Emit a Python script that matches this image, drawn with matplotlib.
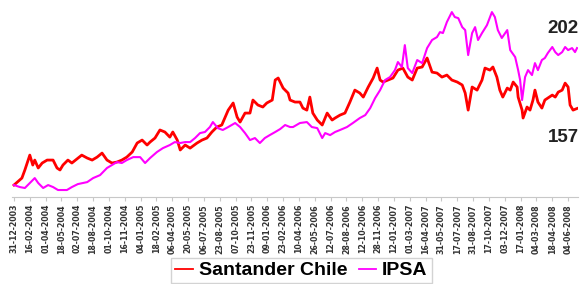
import matplotlib
matplotlib.use("Agg")
import matplotlib.pyplot as plt

# trading-day index of each traced point
santander_days = [0, 16, 22, 32, 38, 42, 49, 57, 67, 79, 87, 93, 99, 109, 117, 137, 148, 158, 168, 178,
                  188, 198, 208, 218, 228, 239, 249, 259, 269, 275, 285, 295, 305, 315, 321, 330, 336, 346, 356, 370,
                  380, 390, 400, 410, 420, 427, 433, 443, 451, 457, 467, 477, 483, 493, 503, 511, 522, 528, 534, 544,
                  554, 558, 568, 578, 584, 592, 598, 604, 613, 623, 633, 643, 649, 659, 669, 679, 689, 699, 706, 716,
                  726, 734, 740, 746, 756, 766, 776, 786, 796, 805, 815, 825, 835, 845, 855, 865, 875, 885, 896, 906,
                  912, 918, 926, 936, 946, 952, 962, 968, 976, 982, 988, 997, 1003, 1009, 1017, 1019, 1027, 1029, 1037, 1043,
                  1049, 1053, 1059, 1067, 1073, 1079, 1088, 1094, 1100, 1108, 1114, 1120, 1124, 1130, 1138]
santander = [100, 105.2, 111.2, 122.3, 114.9, 118.6, 112.7, 116.4, 118.6, 118.6, 112.7, 111.2, 114.9, 118.6, 116.4, 122.3, 120.1, 118.6, 120.8, 123.8,
             118.6, 116.4, 117.1, 118.6, 120.8, 124.6, 131.3, 133.5, 129.8, 132.0, 135.0, 141.0, 139.5, 135.7, 139.5, 133.5, 126.1, 129.8, 127.5, 131.3,
             133.5, 135.0, 139.5, 143.2, 144.7, 150.6, 155.8, 161.1, 150.6, 146.9, 153.6, 153.6, 163.3, 159.6, 158.1, 161.1, 163.3, 178.2, 179.7, 172.2,
             168.5, 163.3, 161.8, 161.8, 157.3, 155.8, 165.5, 153.6, 148.4, 144.7, 153.6, 148.4, 149.9, 152.1, 153.6, 161.8, 170.7, 168.5, 165.5, 173.0,
             179.7, 187.1, 178.2, 176.7, 178.2, 179.7, 185.6, 187.1, 180.4, 178.2, 187.1, 187.9, 194.6, 184.1, 183.4, 180.4, 181.9, 178.2, 176.7, 174.5,
             168.5, 155.8, 173.0, 170.7, 178.2, 187.1, 185.6, 187.9, 180.4, 170.7, 165.5, 172.2, 170.7, 176.7, 173.0, 165.5, 155.8, 149.9, 158.1, 155.8,
             163.3, 170.7, 161.8, 157.3, 163.3, 164.8, 167.0, 165.5, 169.2, 170.7, 175.9, 173.0, 159.6, 155.8, 157]

ipsa_days = [0, 12, 22, 32, 42, 49, 59, 69, 79, 89, 107, 117, 129, 148, 160, 174, 188, 198, 208, 218,
             228, 241, 255, 265, 275, 289, 301, 315, 325, 336, 346, 356, 366, 376, 386, 396, 402, 412, 422, 433,
             447, 457, 467, 477, 487, 497, 507, 517, 528, 538, 548, 558, 564, 578, 592, 602, 613, 623, 629, 639,
             649, 659, 673, 685, 699, 710, 720, 730, 740, 750, 760, 770, 776, 784, 790, 796, 805, 815, 825, 835,
             845, 855, 861, 867, 875, 885, 891, 898, 906, 912, 918, 926, 932, 938, 946, 956, 966, 972, 978, 986,
             997, 1003, 1013, 1019, 1023, 1027, 1033, 1039, 1047, 1053, 1059, 1067, 1073, 1079, 1088, 1094, 1100, 1108, 1114, 1120,
             1128, 1134, 1138]
ipsa = [100, 98.5, 97.8, 101.5, 105.2, 101.5, 97.8, 100.0, 98.5, 96.3, 96.3, 98.5, 100.7, 102.2, 105.2, 107.4, 112.7, 114.9, 117.1, 116.4,
        118.6, 120.8, 120.8, 116.4, 120.1, 124.6, 127.5, 129.8, 132.0, 131.3, 132.0, 132.0, 135.0, 138.7, 139.5, 143.2, 146.9, 142.4, 141.0, 143.2,
        146.2, 143.2, 138.7, 133.5, 135.0, 131.3, 135.0, 137.2, 139.5, 141.7, 144.7, 143.2, 143.2, 146.2, 146.9, 143.2, 142.4, 135.0, 138.7, 137.2,
        139.5, 141.0, 143.2, 146.2, 149.9, 152.1, 157.3, 164.8, 170.7, 178.2, 180.4, 185.6, 191.6, 187.9, 204.2, 187.1, 183.4, 193.1, 190.8, 202.0,
        208.0, 210.2, 213.9, 213.2, 221.4, 228.8, 225.1, 224.3, 217.6, 215.4, 196.8, 213.2, 217.6, 208.0, 213.2, 219.1, 228.8, 225.1, 215.4, 209.5,
        215.4, 200.5, 195.3, 185.6, 178.2, 163.3, 180.4, 185.6, 181.9, 190.8, 185.6, 193.1, 194.6, 198.3, 202.8, 199.0, 196.8, 199.0, 202.8, 200.5,
        202.0, 199.0, 202]

tick_days = list(range(0, 1121, 32))
tick_labels = ["31-12-2003", "16-02-2004", "01-04-2004", "18-05-2004", "02-07-2004", "18-08-2004",
               "01-10-2004", "16-11-2004", "04-01-2005", "18-02-2005", "06-04-2005", "20-05-2005",
               "06-07-2005", "23-08-2005", "07-10-2005", "23-11-2005", "09-01-2006", "23-02-2006",
               "10-04-2006", "26-05-2006", "12-07-2006", "28-08-2006", "12-10-2006", "28-11-2006",
               "12-01-2007", "01-03-2007", "16-04-2007", "31-05-2007", "17-07-2007", "31-08-2007",
               "17-10-2007", "03-12-2007", "17-01-2008", "04-03-2008", "18-04-2008", "04-06-2008"]
series_names = ["Santander Chile", "IPSA"]
end_labels = ["157", "202"]

W, H = 583, 284
fig = plt.figure(figsize=(W / 100, H / 100), dpi=100)
ax = fig.add_axes([12 / W, (H - 197) / H, 566 / W, 197 / H])

ax.plot(santander_days, santander, color="#FF0000", lw=2.0, label=series_names[0])
ax.plot(ipsa_days, ipsa, color="#FF00FF", lw=1.5, label=series_names[1])

ax.set_xlim(-4, 1140)
ax.set_ylim(91.1, 237.8)
for s in ["top", "right", "left"]:
    ax.spines[s].set_visible(False)
ax.spines["bottom"].set_color("#c8c8c8")
ax.set_yticks([])
ax.set_xticks(tick_days)
ax.set_xticklabels(tick_labels, rotation=90, fontsize=5.7, fontweight="bold",
                   color="#333333", family="DejaVu Sans")
ax.tick_params(axis="x", length=3, color="#c8c8c8", pad=2)

ax.annotate(end_labels[1], (ipsa_days[-1], ipsa[-1]), xytext=(-14, 20),
            textcoords="offset pixels", ha="center", va="center",
            fontsize=13.5, fontweight="bold", family="Liberation Sans", color="#222222")
ax.annotate(end_labels[0], (santander_days[-1], santander[-1]), xytext=(-14, -29),
            textcoords="offset pixels", ha="center", va="center",
            fontsize=13.5, fontweight="bold", family="Liberation Sans", color="#222222")

leg = fig.legend(loc="center", bbox_to_anchor=(301.5 / W, (H - 270.5) / H), ncol=2,
                 prop={"family": "Liberation Sans", "weight": "bold", "size": 14},
                 frameon=True, fancybox=False, handlelength=0.9, handletextpad=0.3,
                 columnspacing=0.6, borderpad=0.2, borderaxespad=0)
leg.get_frame().set_edgecolor("#c8c8c8")
leg.get_frame().set_linewidth(1.0)
for line in leg.get_lines():
    line.set_linewidth(1.3)

fig.savefig("out.png", dpi=100)
